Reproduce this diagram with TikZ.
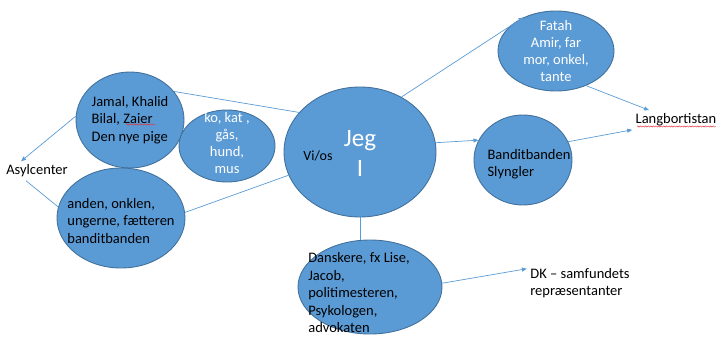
\documentclass[tikz,border=0pt]{standalone}
\usepackage{fontspec}
\setmainfont{Carlito}
\usetikzlibrary{shapes.geometric}
\usetikzlibrary{arrows.meta}
\usetikzlibrary{decorations.pathmorphing}

\definecolor{bubblefill}{HTML}{5B9BD5}
\definecolor{bubbleline}{HTML}{41719C}
\definecolor{spellred}{HTML}{E0303A}

\begin{document}
\begin{tikzpicture}[x=1pt, y=-1pt,
    bubble/.style={ellipse, draw=bubbleline, fill=bubblefill, line width=0.9pt, inner sep=0pt},
    link/.style={draw=bubblefill, line width=0.7pt},
    arrowlink/.style={link, -{Triangle[length=5pt,width=4pt]}},
    darktext/.style={text=black, align=left, font=\fontsize{14.5}{17.5}\selectfont},
    lighttext/.style={text=white, align=center, font=\fontsize{14.5}{16.8}\selectfont},
    spelling/.style={draw=spellred, line width=0.45pt, decorate,
        decoration={snake, amplitude=0.6pt, segment length=2.6pt}}]

    \useasboundingbox (0,0) rectangle (716,340);

    % Left side: Jamal and friends
    \node[bubble, minimum width=108, minimum height=96] (jamal) at (130,120) {};
    \node[darktext] (jamaltxt) at (jamal) {Jamal, Khalid\\Bilal, Zaier\\Den nye pige};
    \draw[spelling] (126,124.5) -- (155,124.5);

    % Left side: anden, onklen ...
    \node[bubble, minimum width=128, minimum height=100] (anden) at (121,218) {};
    \node[darktext, yshift=-3pt] (andentxt) at (anden) {anden, onklen,\\ungerne, f\ae tteren\\banditbanden};

    % Animals
    \node[bubble, minimum width=96, minimum height=72] (kokat) at (227,146) {};
    \node[lighttext, yshift=3pt] (kokattxt) at (kokat) {ko, kat ,\\gås,\\hund,\\mus};

    % Centre: Jeg
    \node[bubble, minimum width=152, minimum height=130] (jeg) at (360,152) {};
    \node[lighttext, font=\fontsize{25}{30}\selectfont] (jegtxt) at (360,153) {Jeg\\I};
    \node[darktext, font=\fontsize{14}{16}\selectfont] (vios) at (318,156) {Vi/os};

    % Family abroad
    \node[bubble, minimum width=116, minimum height=80] (fatah) at (556,51) {};
    \node[lighttext] (fatahtxt) at (fatah) {Fatah\\Amir, far\\mor, onkel,\\tante};

    % Banditbanden
    \node[bubble, minimum width=98, minimum height=90] (bandit) at (523,160) {};
    \node[darktext, xshift=6pt, yshift=-4pt] (bandittxt) at (bandit) {Banditbanden\\Slyngler};

    % Danskere
    \node[bubble, minimum width=144, minimum height=94] (dansk) at (370,287) {};
    \node[darktext, xshift=-11pt, yshift=-6pt] (dansktxt) at (dansk) {Danskere, fx Lise,\\Jacob,\\politimesteren,\\Psykologen,\\advokaten};

    % Places
    \node[darktext] (asyl) at (37,171) {Asylcenter};
    \node[darktext] (lang) at (676,120) {Langbortistan};
    \draw[spelling] (637,126.5) -- (716,126.5);
    \node[darktext] (dk) at (580,283) {DK -- samfundets\\repr\ae sentanter};

    % Connectors
    \draw[arrowlink] (jamal.176) -- ([xshift=-16pt]asyl.north);
    \draw[link] (anden.170) -- ([xshift=-11pt]asyl.south);
    \draw[link] (jamal.33) -- (jeg.147);
    \draw[link] (anden.5) -- (jeg.198);
    \draw[arrowlink] (jeg.53) -- (fatah.134);
    \draw[arrowlink] (jeg.7) -- (bandit.156);
    \draw[arrowlink] (fatah.-49) -- ([xshift=-27pt]lang.north);
    \draw[arrowlink] (bandit.22) -- (lang.south west);
    \draw[link] (jeg.south) -- (jeg.south |- dansk.north);
    \draw[arrowlink] (dansk.3) -- (dk.165);

\end{tikzpicture}
\end{document}
